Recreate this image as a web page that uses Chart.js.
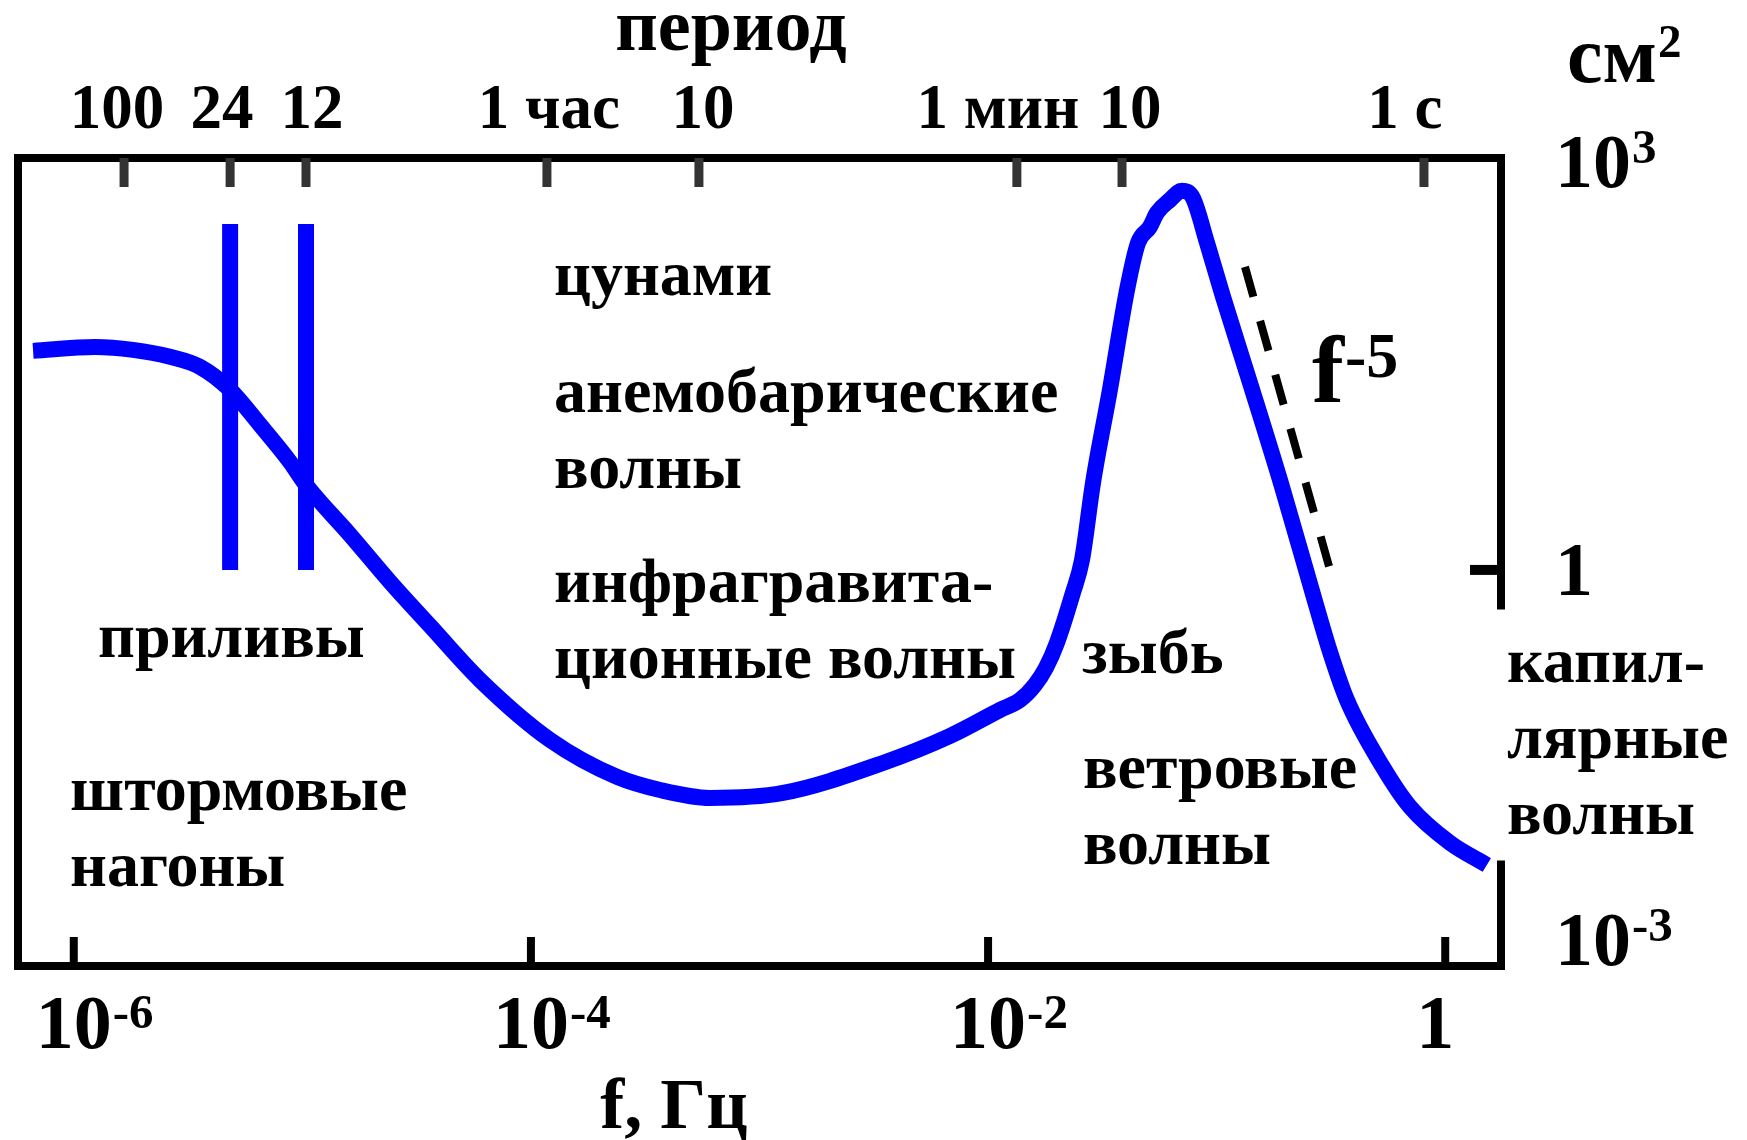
<!DOCTYPE html>
<html lang="ru">
<head>
<meta charset="utf-8">
<title>Спектр поверхностных волн</title>
<script src="https://cdn.jsdelivr.net/npm/chart.js@4.4.1/dist/chart.umd.min.js"></script>
<style>
  html, body { margin: 0; padding: 0; background: #fff; }
  #wrap { width: 1747px; height: 1140px; }
</style>
</head>
<body>
<div id="wrap"><canvas id="spectrum"></canvas></div>
<script>
// spectrum curve, both coordinates as decades: lg f (Гц) and lg S (см²)
const lgF = [-6.178, -5.907, -5.741, -5.579, -5.448, -5.316, -5.185, -5.054, -4.984, -4.791,
             -4.616, -4.441, -4.223, -3.916, -3.623, -3.435, -3.217, -2.897, -2.460, -2.167,
             -1.948, -1.860, -1.795, -1.747, -1.699, -1.629, -1.589, -1.541, -1.467, -1.392,
             -1.344, -1.292, -1.261, -1.204, -1.152, -1.104, -1.042, -0.972, -0.854, -0.710,
             -0.574, -0.504, -0.430, -0.273, -0.154, 0.021, 0.182];
const lgS = [1.659, 1.689, 1.667, 1.614, 1.538, 1.364, 1.098, 0.818, 0.644, 0.265,
             -0.091, -0.424, -0.833, -1.288, -1.568, -1.667, -1.727, -1.689, -1.462, -1.258,
             -1.061, -0.985, -0.871, -0.742, -0.553, -0.174, 0.076, 0.659, 1.364, 2.121,
             2.477, 2.598, 2.705, 2.803, 2.871, 2.818, 2.477, 2.068, 1.417, 0.606,
             -0.212, -0.621, -0.985, -1.492, -1.795, -2.068, -2.235];

// period scale along the top (schematic, placed on the lg f axis)
const periodLabels = ['100', '24', '12', '1 час', '10', '1 мин', '10', '1 с'];
const periodLgF = [-5.78, -5.316, -4.984, -3.93, -3.265, -1.874, -1.414, -0.093];

const freqTicks = [-6, -4, -2, 0];   // f, Гц
const levelTicks = [3, 0, -3];       // см²

// tidal lines (24 h and 12 h)
const tideLabels = ['24', '12'];
const tideLgS = [2.62, 0];

// f^-5 reference slope
const slopeLgF = [-0.876, -0.504];
const slopeLgS = [2.295, 0];

const xRange = [-6.244, 0.244];
const yRange = [-3, 3.12];

const pow10 = v => Math.pow(10, v);
const BLUE = '#0000ff';
const SERIF = "'Liberation Serif', 'Times New Roman', serif";

function put(ctx, s, x, y, size, align) {
  ctx.font = 'bold ' + size + 'px ' + SERIF;
  ctx.textAlign = align || 'left';
  ctx.textBaseline = 'alphabetic';
  ctx.fillText(s, x, y);
}

// base with an exponent; alignment refers to the base only
function putPow(ctx, base, exp, x, y, size, expSize, raise, align) {
  ctx.font = 'bold ' + size + 'px ' + SERIF;
  const w = ctx.measureText(base).width;
  const x0 = align === 'center' ? x - w / 2 : x;
  put(ctx, base, x0, y, size, 'left');
  if (exp) put(ctx, exp, x0 + w + 1, y - raise, expSize, 'left');
}

const frame = {
  id: 'frame',
  afterDatasetsDraw(chart) {
    const { ctx, chartArea: a, scales: { x, y } } = chart;
    ctx.save();
    ctx.strokeStyle = '#000';
    ctx.lineWidth = 8;
    ctx.lineCap = 'butt';
    ctx.lineJoin = 'miter';
    // right side is left open next to the capillary waves label
    const gapTop = y.getPixelForValue(pow10(-0.3));
    const gapBottom = y.getPixelForValue(pow10(-2.2));
    ctx.beginPath();
    ctx.moveTo(a.right, gapTop);
    ctx.lineTo(a.right, a.top);
    ctx.lineTo(a.left, a.top);
    ctx.lineTo(a.left, a.bottom);
    ctx.lineTo(a.right, a.bottom);
    ctx.lineTo(a.right, gapBottom);
    ctx.stroke();

    // period ticks
    ctx.strokeStyle = '#333';
    ctx.lineWidth = 9;
    periodLgF.forEach(v => {
      const px = x.getPixelForValue(pow10(v));
      ctx.beginPath();
      ctx.moveTo(px, a.top);
      ctx.lineTo(px, a.top + 29);
      ctx.stroke();
    });

    // frequency ticks
    ctx.strokeStyle = '#000';
    ctx.lineWidth = 8;
    freqTicks.forEach(v => {
      const px = x.getPixelForValue(pow10(v));
      ctx.beginPath();
      ctx.moveTo(px, a.bottom);
      ctx.lineTo(px, a.bottom - 29);
      ctx.stroke();
    });

    // inner level ticks only, the end labels have none
    ctx.lineWidth = 10;
    levelTicks.slice(1, -1).forEach(v => {
      const py = y.getPixelForValue(pow10(v));
      ctx.beginPath();
      ctx.moveTo(a.right - 31, py);
      ctx.lineTo(a.right, py);
      ctx.stroke();
    });
    ctx.restore();
  },

  afterDraw(chart) {
    const { ctx, chartArea: a, scales: { x, y } } = chart;
    const px = v => x.getPixelForValue(pow10(v));
    const py = v => y.getPixelForValue(pow10(v));
    ctx.save();
    ctx.fillStyle = '#000';

    // axis titles
    put(ctx, 'период', a.left + 713, a.top - 108, 74, 'center');
    put(ctx, 'f, Гц', a.left + 656, a.bottom + 162, 72, 'center');
    putPow(ctx, 'см', '2', a.right + 66, a.top - 76, 80, 47, 25, 'left');

    // period labels, nudged sideways where they would crowd each other
    const labelDx = [-7, -8, 6, 2, 4, -19, 8, -19];
    periodLabels.forEach((s, i) => put(ctx, s, px(periodLgF[i]) + labelDx[i], a.top - 30, 63, 'center'));

    // frequency labels
    freqTicks.forEach(e => {
      if (e === 0) putPow(ctx, '1', '', px(e) - 10, a.bottom + 82, 76, 49, 20, 'center');
      else putPow(ctx, '10', String(e), px(e), a.bottom + 82, 76, 49, 20, 'center');
    });

    // level labels on the right
    const levelDy = { 3: 13, 0: 25, '-3': -1 };
    levelTicks.forEach(e => {
      const yy = py(e) + levelDy[e];
      if (e === 0) put(ctx, '1', a.right + 54, yy, 76, 'left');
      else putPow(ctx, '10', String(e), a.right + 54, yy, 76, 49, 24, 'left');
    });

    // wave types
    const notes = [
      { f: -3.899, s: 2.083, lines: ['цунами'] },
      { f: -3.899, s: 1.197, lines: ['анемобарические', 'волны'] },
      { f: -3.899, s: -0.242, lines: ['инфрагравита-', 'ционные волны'] },
      { f: -5.894, s: -0.659, lines: ['приливы'] },
      { f: -6.016, s: -1.818, lines: ['штормовые', 'нагоны'] },
      { f: -1.589, s: -0.780, lines: ['зыбь'] },
      { f: -1.585, s: -1.652, lines: ['ветровые', 'волны'] },
      { f: 0.270, s: -0.848, lines: ['капил-', 'лярные', 'волны'] }
    ];
    notes.forEach(n => {
      n.lines.forEach((s, i) => put(ctx, s, px(n.f), py(n.s) + i * 76, 64, 'left'));
    });

    putPow(ctx, 'f', '-5', px(-0.583), py(1.273), 96, 64, 25, 'left');
    ctx.restore();
  }
};

const tideLines = tideLabels.map(lbl => {
  const f = periodLgF[periodLabels.indexOf(lbl)];
  return {
    label: lbl,
    data: tideLgS.map(s => ({ x: pow10(f), y: pow10(s) })),
    borderColor: BLUE,
    borderWidth: 16,
    borderCapStyle: 'butt',
    pointRadius: 0
  };
});

new Chart(document.getElementById('spectrum'), {
  type: 'line',
  data: {
    datasets: [
      {
        label: 'S(f)',
        data: lgF.map((f, i) => ({ x: pow10(f), y: pow10(lgS[i]) })),
        borderColor: BLUE,
        borderWidth: 16,
        borderJoinStyle: 'round',
        cubicInterpolationMode: 'monotone',
        pointRadius: 0
      },
      ...tideLines,
      {
        label: 'f^-5',
        data: slopeLgF.map((f, i) => ({ x: pow10(f), y: pow10(slopeLgS[i]) })),
        borderColor: '#000',
        borderWidth: 8,
        borderDash: [31, 25],
        pointRadius: 0
      }
    ]
  },
  options: {
    responsive: true,
    maintainAspectRatio: false,
    animation: false,
    events: [],
    layout: { padding: { left: 18, top: 158, right: 246, bottom: 174 } },
    scales: {
      x: { type: 'logarithmic', display: false, bounds: 'data', min: pow10(xRange[0]), max: pow10(xRange[1]) },
      y: { type: 'logarithmic', display: false, bounds: 'data', min: pow10(yRange[0]), max: pow10(yRange[1]) }
    },
    plugins: { legend: { display: false }, tooltip: { enabled: false } }
  },
  plugins: [frame]
});
</script>
</body>
</html>
